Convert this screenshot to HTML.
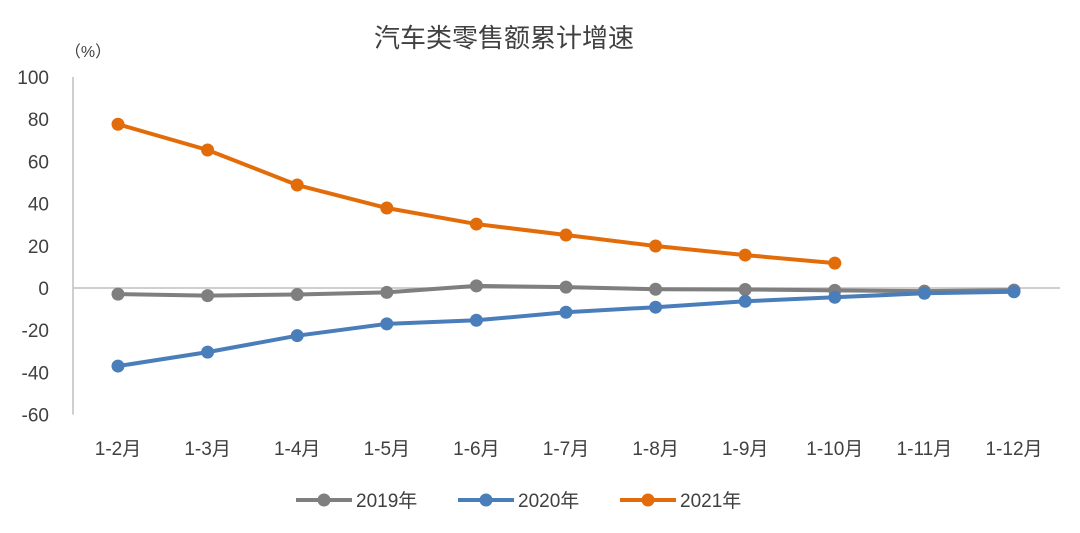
<!DOCTYPE html>
<html><head><meta charset="utf-8"><style>
html,body{margin:0;padding:0;background:#fff;}
svg{display:block;font-family:"Liberation Sans","Noto Sans CJK SC",sans-serif;}
</style></head><body>
<svg id="chart" width="1080" height="533" viewBox="0 0 1080 533">
<text x="504" y="47" text-anchor="middle" font-size="26" fill="#404040">汽车类零售额累计增速</text>
<text x="88" y="57" text-anchor="middle" font-size="16" fill="#404040">（%）</text>
<g id="axes"></g>
<g id="series"></g>
<g id="legend"></g>
</svg>
<script>
const categories=["1-2月","1-3月","1-4月","1-5月","1-6月","1-7月","1-8月","1-9月","1-10月","1-11月","1-12月"];
const s2019=[-2.9,-3.6,-3.1,-2.1,1.0,0.4,-0.6,-0.7,-1.1,-1.5,-1.0];
const s2020=[-37.0,-30.4,-22.6,-17.0,-15.3,-11.5,-9.1,-6.3,-4.4,-2.5,-1.8];
const s2021=[77.6,65.4,48.8,37.9,30.3,25.1,19.9,15.6,11.8];
const yTicks=[100,80,60,40,20,0,-20,-40,-60];
const seriesNames=["2019年","2020年","2021年"];
const colors=["#7f7f7f","#4a7ebb","#e36c0a"];
const NS="http://www.w3.org/2000/svg";
function y(v){return 288-v*2.11;}
function x(i){return 118+i*89.6;}
function mk(tag,attrs,parent){const e=document.createElementNS(NS,tag);for(const k in attrs)e.setAttribute(k,attrs[k]);parent.appendChild(e);return e;}
const axes=document.getElementById('axes');
let a=mk('line',{x1:73,y1:y(100),x2:73,y2:y(-60),stroke:'#bfbfbf','stroke-width':1.5},axes);


a=mk('line',{x1:73,y1:y(0),x2:1060,y2:y(0),stroke:'#bfbfbf','stroke-width':1.5},axes);


yTicks.forEach(v=>{const t=mk('text',{x:49,y:y(v)+7,'text-anchor':'end','font-size':19,fill:'#404040'},axes);t.textContent=v;

});
categories.forEach((c,i)=>{const t=mk('text',{x:x(i),y:455,'text-anchor':'middle','font-size':19,fill:'#404040'},axes);t.textContent=c;

});
const sg=document.getElementById('series');
[s2019,s2020,s2021].forEach((d,k)=>{
const g=mk('g',{},sg);


const pl=mk('polyline',{points:d.map((v,i)=>x(i)+','+y(v)).join(' '),fill:'none',stroke:colors[k],'stroke-width':4,'stroke-linejoin':'round'},g);


d.forEach((v,i)=>{const c=mk('circle',{cx:x(i),cy:y(v),r:6.5,fill:colors[k]},g);

});
});
const lg=document.getElementById('legend');
const lx=[296,458,620];
seriesNames.forEach((n,k)=>{
const g=mk('g',{},lg);


mk('line',{x1:lx[k],y1:500,x2:lx[k]+56,y2:500,stroke:colors[k],'stroke-width':4},g);
mk('circle',{cx:lx[k]+28,cy:500,r:6.5,fill:colors[k]},g);
const t=mk('text',{x:lx[k]+60,y:507,'font-size':19,fill:'#404040'},g);t.textContent=n;


});
</script>
</body></html>
